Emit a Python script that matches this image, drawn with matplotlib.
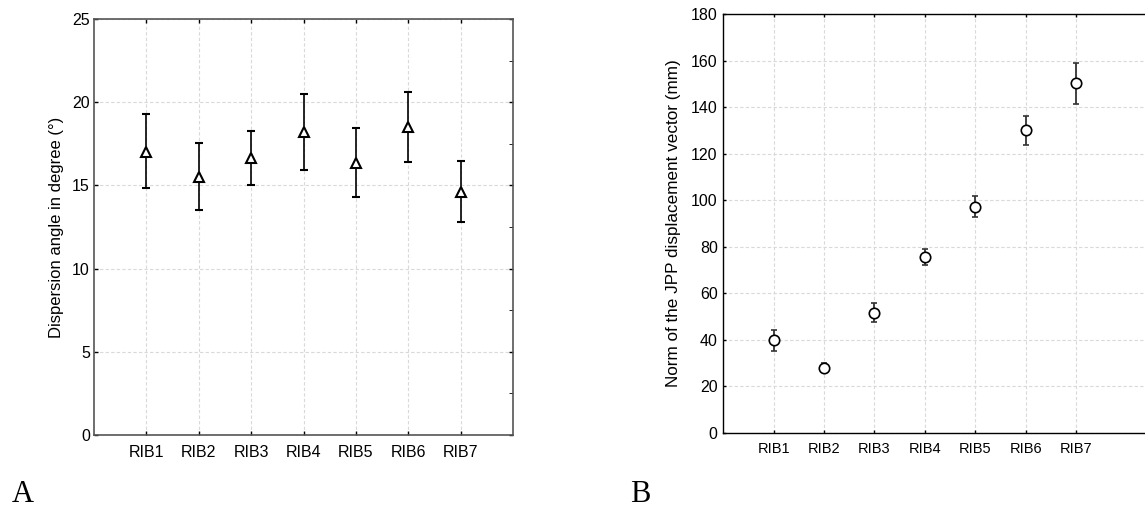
import matplotlib.pyplot as plt
import numpy as np

plt.rcParams['font.family'] = ['Liberation Sans', 'DejaVu Sans']

ribs = ["RIB1", "RIB2", "RIB3", "RIB4", "RIB5", "RIB6", "RIB7"]

# A) dispersion angle (deg): mean, upper and lower bar ends
angle_mean = [17.03, 15.53, 16.63, 18.19, 16.35, 18.49, 14.63]
angle_hi = [19.28, 17.53, 18.29, 20.48, 18.43, 20.60, 16.49]
angle_lo = [14.83, 13.53, 15.03, 15.91, 14.33, 16.43, 12.83]

# B) norm of JPP displacement vector (mm)
norm_mean = [39.9, 28.0, 51.6, 75.6, 97.2, 130.1, 150.3]
norm_hi = [44.2, 29.8, 55.7, 78.9, 102.0, 136.4, 159.2]
norm_lo = [35.3, 26.0, 47.5, 72.1, 92.7, 123.9, 141.4]

W, H = 1145, 511
fig = plt.figure(figsize=(W/100, H/100), dpi=100)

def px_axes(l, t, r, b):
    return fig.add_axes([l/W, 1-b/H, (r-l)/W, (b-t)/H])

grid_kw = dict(color="#d9d9d9", linestyle=(0, (3, 2)), linewidth=0.8)
x = np.arange(1, len(ribs)+1)

# ---- A
axA = px_axes(94, 19, 513, 435)
m = np.array(angle_mean)
err = [m-np.array(angle_lo), np.array(angle_hi)-m]
axA.errorbar(x, m, yerr=err, fmt="^", color="black", ecolor="black",
             markerfacecolor="white", markeredgecolor="black",
             markersize=6.5, markeredgewidth=1.5, elinewidth=1.2,
             capsize=3, capthick=1.0, zorder=3)
axA.set_xlim(0, 8)
axA.set_ylim(0, 25)
axA.set_xticks(x)
axA.set_xticklabels(ribs)
axA.set_yticks(np.arange(0, 26, 5))
axA.set_yticks(np.arange(0, 25.1, 2.5), minor=True)
axA.grid(True, **grid_kw)
axA.set_axisbelow(True)
axA.tick_params(direction="in", length=3, width=1, labelsize=11.5,
                top=True, right=True, colors="black", pad=3)
axA.tick_params(axis="x", pad=7)
axA.tick_params(which="minor", direction="in", length=3, left=False,
                right=True)
axA.set_ylabel("Dispersion angle in degree (°)", fontsize=12, labelpad=6)
for s in axA.spines.values():
    s.set_color("#555555")
    s.set_linewidth(1.2)

# ---- B
right_edge = 1150
axB = px_axes(723.3, 14.3, right_edge, 432.7)
m = np.array(norm_mean)
err = [m-np.array(norm_lo), np.array(norm_hi)-m]
axB.errorbar(x, m, yerr=err, fmt="o", color="#333333", ecolor="#333333",
             markerfacecolor="white", markeredgecolor="black",
             markersize=7.5, markeredgewidth=1.2, elinewidth=1.3,
             capsize=2.5, capthick=1.0, zorder=3)
axB.set_xlim(0, (right_edge-723.3)/50.4)
axB.set_ylim(0, 180)
axB.set_xticks(x)
axB.set_xticklabels(ribs)
axB.set_yticks(np.arange(0, 181, 20))
axB.grid(True, **grid_kw)
axB.set_axisbelow(True)
axB.tick_params(direction="in", length=2, width=1, labelsize=11.5,
                top=True, pad=4)
axB.tick_params(axis="x", labelsize=10.5, pad=7)
axB.set_ylabel("Norm of the JPP displacement vector (mm)", fontsize=12.3,
               labelpad=7)
for s in axB.spines.values():
    s.set_color("black")
    s.set_linewidth(1.0)
axB.spines["right"].set_visible(False)

fig.text(12/W, 1-502/H, "A", family="Liberation Serif", fontsize=22,
         va="baseline", ha="left")
fig.text(630/W, 1-502/H, "B", family="Liberation Serif", fontsize=22,
         va="baseline", ha="left")

fig.savefig("out.png", dpi=100)
